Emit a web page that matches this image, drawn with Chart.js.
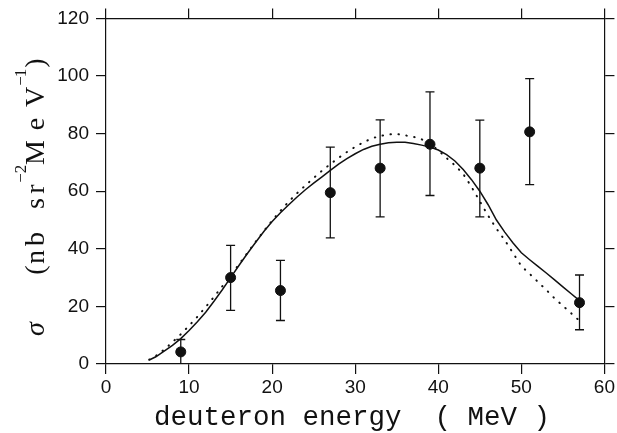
<!DOCTYPE html>
<html lang="en">
<head>
<meta charset="UTF-8">
<title>Deuteron energy spectrum</title>
<script src="https://cdn.jsdelivr.net/npm/chart.js"></script>
<style>
  body { margin: 0; background: #fff; }
  #wrap { width: 617px; height: 433px; }
</style>
</head>
<body>
<div id="wrap"><canvas id="chart" width="617" height="433"></canvas></div>
<script>
// measured points with error bars
const energy  = [9, 15, 21, 27, 33, 39, 45, 51, 57];
const sigma   = [4.2, 30.0, 25.5, 59.5, 68.0, 76.3, 68.0, 80.6, 21.3];
const errLow  = [0, 18.6, 15.1, 43.8, 51.1, 58.5, 51.1, 62.3, 11.9];
const errHigh = [8.5, 41.2, 36.0, 75.3, 84.8, 94.5, 84.7, 99.1, 30.9];

// calculated curves
const calcE = [5.2, 6, 7, 8, 9, 10, 11, 12, 13, 14, 15, 16, 17, 18, 19, 20, 21, 22, 23, 24, 25,
  26, 27, 28, 29, 30, 31, 32, 33, 34, 35, 36, 37, 38, 39, 40, 41, 42, 43, 44, 45, 46, 47, 48,
  49, 50, 51, 52, 53, 54, 55, 56, 57];
const calcSolid = [1.4, 2.5, 4.5, 6.5, 8.8, 11.6, 14.7, 18.0, 21.8, 25.8, 30.0, 34.2, 38.3, 42.2,
  46.0, 49.5, 52.5, 55.3, 58.0, 60.5, 62.8, 65.0, 67.2, 69.4, 71.3, 73.0, 74.5, 75.6, 76.3, 76.8,
  77.0, 77.0, 76.6, 76.0, 75.3, 74.3, 72.7, 70.5, 67.5, 64.0, 60.0, 55.3, 50.0, 45.8, 42.0, 38.6,
  36.2, 33.9, 31.6, 29.2, 26.8, 24.4, 22.0];
const calcDotted = [1.5, 2.8, 5.0, 7.6, 10.3, 13.3, 16.4, 19.8, 23.3, 27.0, 30.7, 34.6, 38.5, 42.4,
  46.2, 49.8, 53.2, 56.4, 59.3, 62.0, 64.6, 67.1, 69.4, 71.6, 73.6, 75.4, 77.0, 78.3, 79.2, 79.7,
  79.9, 79.4, 78.9, 78.0, 76.5, 74.2, 71.5, 69.0, 66.0, 61.5, 56.5, 51.5, 47.0, 43.0, 38.5, 34.0,
  31.3, 28.5, 25.7, 22.8, 20.2, 17.6, 15.0];

const xTicks = [0, 10, 20, 30, 40, 50, 60];
const yTicks = [0, 20, 40, 60, 80, 100, 120];

const tickFont = { family: '"Liberation Sans", Arial, sans-serif', size: 19 };

function frameAxis(position, showLabels, ticks, min, max) {
  return {
    type: 'linear',
    position: position,
    min: min, max: max,
    afterBuildTicks: s => { s.ticks = ticks.map(v => ({ value: v })); },
    ticks: {
      display: showLabels,
      color: '#111',
      font: tickFont,
      padding: position === 'left' ? 7 : 2
    },
    grid: {
      drawOnChartArea: false,
      drawTicks: true,
      tickLength: 10,
      color: '#111',
      lineWidth: 1.2
    },
    border: { display: true, color: '#111', width: 1.2 },
    afterFit: s => {
      if (position === 'bottom') s.height = 69;
      if (position === 'top') s.height = 15;
      if (position === 'left') s.width = 106;
      if (position === 'right') s.width = 10;
    }
  };
}

const errorBars = {
  id: 'errorBars',
  afterDatasetsDraw(chart) {
    const ctx = chart.ctx, xs = chart.scales.x, ys = chart.scales.y;
    ctx.save();
    ctx.strokeStyle = '#111';
    ctx.lineWidth = 1.3;
    energy.forEach((e, i) => {
      const px = xs.getPixelForValue(e);
      const lo = ys.getPixelForValue(errLow[i]);
      const hi = ys.getPixelForValue(errHigh[i]);
      ctx.beginPath();
      ctx.moveTo(px, lo); ctx.lineTo(px, hi);
      ctx.moveTo(px - 4.5, hi); ctx.lineTo(px + 4.5, hi);
      if (errLow[i] > 0) { ctx.moveTo(px - 4.5, lo); ctx.lineTo(px + 4.5, lo); }
      ctx.stroke();
    });
    ctx.restore();
  }
};

const titles = {
  id: 'titles',
  afterDraw(chart) {
    const ctx = chart.ctx;
    ctx.save();
    ctx.fillStyle = '#111';
    // x title
    ctx.font = '27.5px "Liberation Mono", "Courier New", monospace';
    ctx.textAlign = 'center';
    ctx.textBaseline = 'alphabetic';
    ctx.fillText('deuteron energy  ( MeV )', 352, 425);
    // y title, glyph by glyph along the rotated axis
    const big = '28px "Liberation Serif", "Times New Roman", serif';
    const sup = '17px "Liberation Serif", "Times New Roman", serif';
    const glyphs = [
      ['σ', 329, 'italic ' + big, 43.5],
      ['(', 270, big, 43.5],
      ['n', 257, big, 43.5],
      ['b', 239, big, 43.5],
      ['s', 203.5, big, 43.5],
      ['r', 189, big, 43.5],
      ['−', 178, sup, 26],
      ['2', 169, sup, 26],
      ['M', 152.5, big, 43.5],
      ['e', 124, big, 43.5],
      ['V', 97, big, 43.5],
      ['−', 81, sup, 26],
      ['1', 73, sup, 26],
      [')', 63, big, 43.5]
    ];
    glyphs.forEach(([ch, cy, font, bx]) => {
      ctx.save();
      ctx.font = font;
      ctx.translate(bx, cy);
      ctx.rotate(-Math.PI / 2);
      ctx.textAlign = 'center';
      ctx.fillText(ch, 0, 0);
      ctx.restore();
    });
    ctx.restore();
  }
};

new Chart(document.getElementById('chart'), {
  type: 'scatter',
  data: {
    datasets: [
      {
        label: 'data',
        data: energy.map((e, i) => ({ x: e, y: sigma[i] })),
        backgroundColor: '#111',
        borderColor: '#111',
        pointRadius: 5,
        pointHoverRadius: 5,
        showLine: false
      },
      {
        label: 'solid',
        data: calcE.map((e, i) => ({ x: e, y: calcSolid[i] })),
        borderColor: '#111',
        borderWidth: 1.5,
        pointRadius: 0,
        showLine: true,
        tension: 0
      },
      {
        label: 'dotted',
        data: calcE.map((e, i) => ({ x: e, y: calcDotted[i] })),
        borderColor: '#111',
        borderWidth: 2,
        borderDash: [0.5, 7.5],
        borderCapStyle: 'round',
        pointRadius: 0,
        showLine: true,
        tension: 0
      }
    ]
  },
  options: {
    responsive: false,
    animation: false,
    devicePixelRatio: 1,
    layout: { padding: 0 },
    plugins: { legend: { display: false }, tooltip: { enabled: false } },
    scales: {
      x: frameAxis('bottom', true, xTicks, 0, 60),
      x2: frameAxis('top', false, xTicks, 0, 60),
      y: frameAxis('left', true, yTicks, 0, 120),
      y2: frameAxis('right', false, yTicks, 0, 120)
    }
  },
  plugins: [errorBars, titles]
});
</script>
</body>
</html>
